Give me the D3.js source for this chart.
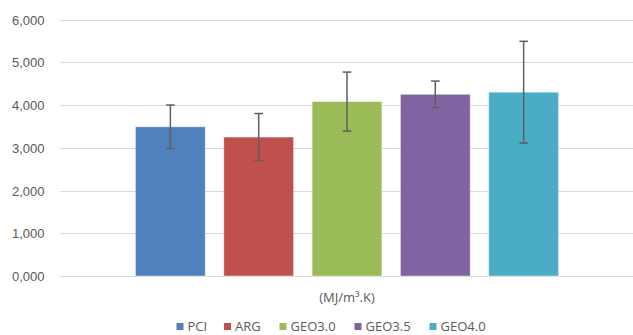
<!DOCTYPE html>
<html>
<head>
  <script src="https://d3js.org/d3.v7.min.js"></script>
  <style>
    body { margin: 0; background: #fff; font-family: "Open Sans", sans-serif; }
    .tick text { fill: #595959; font-size: 13px; }
    .grid line { stroke: #d9d9d9; stroke-width: 1; }
    .err { stroke: #5f5f5f; stroke-width: 1.5; }
    .legend text, .cat-label { fill: #595959; font-size: 13px; }
  </style>
</head>
<body>
  <div id="chart"></div>
  <script>
    const category = "(MJ/m³.K)";
    const series = ["PCI", "ARG", "GEO3.0", "GEO3.5", "GEO4.0"];
    const means = [3.49, 3.25, 4.08, 4.25, 4.30];
    const errors = [0.51, 0.55, 0.69, 0.31, 1.19];
    const colors = ["#4f81bd", "#c0504d", "#9bbb59", "#8064a2", "#4bacc6"];
    const yTicks = [0, 1, 2, 3, 4, 5, 6];

    const W = 633, H = 335;
    const plot = {left: 60, right: 634, top: 19.5, bottom: 276};

    const svg = d3.select("#chart").append("svg")
      .attr("width", W).attr("height", H);

    const loc = d3.formatLocale({decimal: ",", thousands: ".", grouping: [3], currency: ["", ""]});
    const fmt = loc.format(".3f");

    const y = d3.scaleLinear().domain([0, 6]).range([plot.bottom, plot.top]);

    const x0 = d3.scaleBand().domain([category]).range([plot.left, plot.right]);
    const mid = x0(category) + x0.bandwidth() / 2;
    const x1 = d3.scaleBand().domain(series)
      .range([mid - 220.8, mid + 220.8])
      .paddingInner(0.21).paddingOuter(0.105);

    // gridlines
    svg.append("g").attr("class", "grid")
      .selectAll("line").data(yTicks).join("line")
        .attr("x1", plot.left).attr("x2", plot.right)
        .attr("y1", d => Math.round(y(d)) + 0.5)
        .attr("y2", d => Math.round(y(d)) + 0.5);

    // y axis labels
    const yAxis = d3.axisLeft(y).tickValues(yTicks).tickFormat(fmt).tickSize(0).tickPadding(0);
    svg.append("g")
      .attr("transform", `translate(44.5,0)`)
      .call(yAxis)
      .call(g => g.select(".domain").remove())
      .selectAll("text").attr("dy", "0.35em");

    const data = series.map((s, i) => ({name: s, v: means[i], e: errors[i], c: colors[i]}));

    // bars
    svg.append("g").selectAll("rect").data(data).join("rect")
      .attr("x", d => x1(d.name))
      .attr("y", d => y(d.v))
      .attr("width", x1.bandwidth())
      .attr("height", d => y(0) - y(d.v))
      .attr("fill", d => d.c)
      .attr("stroke", "#ffffff").attr("stroke-opacity", 0.5).attr("stroke-width", 0.8);

    // error bars
    const eg = svg.append("g").selectAll("g").data(data).join("g")
      .attr("class", "err")
      .attr("transform", d => `translate(${x1(d.name) + x1.bandwidth() / 2},0)`);
    eg.append("line").attr("y1", d => y(d.v + d.e)).attr("y2", d => y(d.v - d.e));
    eg.append("line").attr("x1", -4.3).attr("x2", 4.3)
      .attr("y1", d => y(d.v + d.e)).attr("y2", d => y(d.v + d.e));
    eg.append("line").attr("x1", -4.3).attr("x2", 4.3)
      .attr("y1", d => y(d.v - d.e)).attr("y2", d => y(d.v - d.e));

    // category label
    svg.append("text").attr("class", "cat-label")
      .attr("x", mid).attr("y", 297).attr("dy", "0.35em")
      .attr("text-anchor", "middle").text(category);

    // legend
    const legX = [176.5, 224, 279.5, 354.5, 429.5];
    const lg = svg.append("g").attr("class", "legend")
      .selectAll("g").data(data).join("g")
      .attr("transform", (d, i) => `translate(${legX[i]},326)`);
    lg.append("rect").attr("x", 0).attr("y", -3).attr("width", 7).attr("height", 7)
      .attr("fill", d => d.c);
    lg.append("text").attr("x", 11).attr("dy", "0.35em").text(d => d.name);
  </script>
</body>
</html>
